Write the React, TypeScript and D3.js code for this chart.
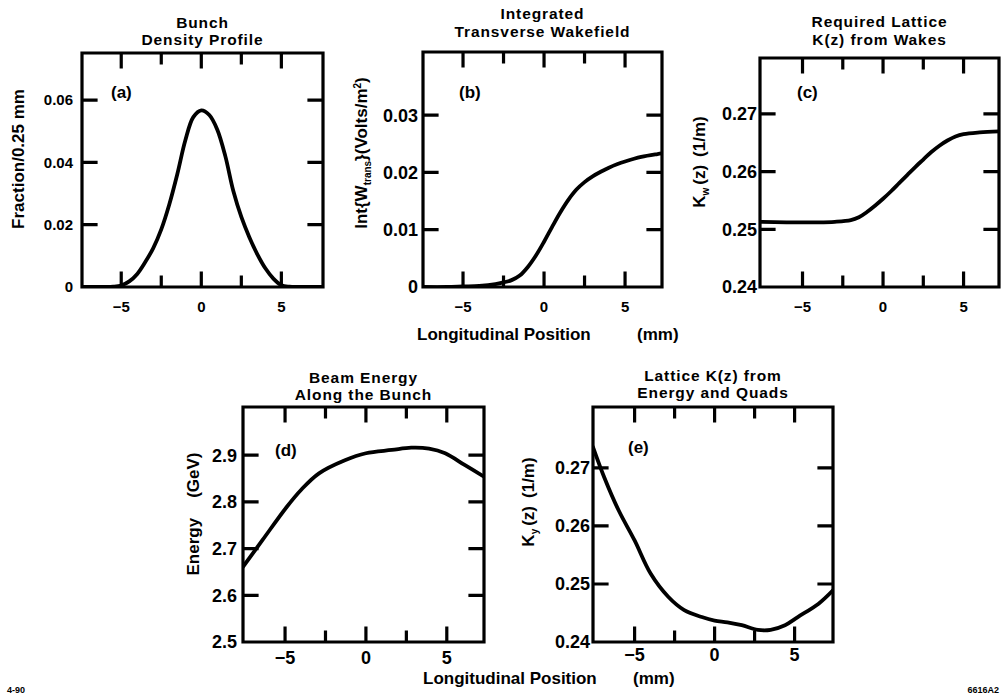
import React from "react";
import * as d3 from "d3";

// ---------- data ----------
// (a) Bunch density profile
const aZ = [-7.5, -7, -6.5, -6, -5.5, -5, -4.5, -4, -3.5, -3, -2.5, -2, -1.5, -1, -0.5, 0, 0.5, 1, 1.5, 2, 2.5, 3, 3.5, 4, 4.5, 5, 5.5, 6, 6.5, 7, 7.5];
const aFrac = [0, 0, 0, 0, 0.0001, 0.0005, 0.0018, 0.0042, 0.008, 0.0125, 0.0185, 0.0265, 0.0362, 0.047, 0.0545, 0.0567, 0.0552, 0.0505, 0.042, 0.0308, 0.0225, 0.016, 0.0105, 0.006, 0.0027, 0.0006, 0.0001, 0, 0, 0, 0];
// (b) Integrated transverse wakefield
const bZ = [-7.5, -6, -5, -4, -3, -2.5, -2, -1.5, -1, -0.5, 0, 0.5, 1, 1.5, 2, 2.5, 3, 3.5, 4, 4.5, 5, 6, 7, 7.5];
const bWake = [0, 0, 0.0001, 0.0002, 0.0005, 0.0008, 0.0012, 0.002, 0.0035, 0.0055, 0.0079, 0.0105, 0.013, 0.0152, 0.017, 0.0183, 0.0193, 0.0201, 0.0208, 0.0214, 0.0219, 0.0227, 0.0232, 0.0234];
// (c) Required lattice K(z) from wakes
const cZ = [-7.7, -6, -5, -4, -3, -2, -1.5, -1, -0.5, 0, 0.5, 1, 1.5, 2, 2.5, 3, 3.5, 4, 4.5, 5, 6, 7.3];
const cK = [0.2513, 0.2512, 0.2512, 0.2512, 0.2513, 0.2516, 0.2521, 0.253, 0.2541, 0.2553, 0.2566, 0.258, 0.2594, 0.2608, 0.2621, 0.2634, 0.2645, 0.2654, 0.2661, 0.2665, 0.2668, 0.267];
// (d) Beam energy along the bunch
const dZ = [-7.6, -6.4, -4.9, -4, -2.9, -1.3, 0, 1.6, 2.8, 3.9, 4.9, 6.1, 7.3];
const dE = [2.661, 2.718, 2.789, 2.826, 2.861, 2.889, 2.904, 2.911, 2.916, 2.914, 2.904, 2.879, 2.854];
// (e) Lattice K(z) from energy and quads
const eZ = [-7.6, -6.9, -6.0, -5, -4.0, -2.9, -1.9, -0.8, 0, 0.8, 1.7, 2.7, 3.5, 4.4, 5.2, 6.5, 7.4];
const eK = [0.2736, 0.2684, 0.2627, 0.2575, 0.2518, 0.2478, 0.2455, 0.2443, 0.2437, 0.2434, 0.2429, 0.2421, 0.2421, 0.2429, 0.2443, 0.2466, 0.2489];

const xTicks = [-5, 0, 5];
const xMinor = [-2.5, 2.5];
const aTicks = [0, 0.02, 0.04, 0.06];
const bTicks = [0, 0.01, 0.02, 0.03];
const cTicks = [0.24, 0.25, 0.26, 0.27];
const dTicks = [2.5, 2.6, 2.7, 2.8, 2.9];
const eTicks = [0.24, 0.25, 0.26, 0.27];

const xAxisTitle = "Longitudinal Position";
const xAxisUnit = "(mm)";

// ---------- layout ----------
const FONT = "'Liberation Sans', Arial, Helvetica, sans-serif";

type PanelCfg = {
  key: string;
  l: number; r: number; t: number; b: number;
  xDom: [number, number];
  yDom: [number, number];
  z: number[]; v: number[];
  yTicks: number[];
  fmt: (v: number) => string;
  titles: string[];
  titleY: number[];
  letter: string;
  letterXY: [number, number];
  yFont: number; xFont: number; gap: number; xLabY: number;
  yTitle: React.ReactNode;
  yTitleXY: [number, number];
};

const f2 = (v: number) => (v === 0 ? "0" : v.toFixed(2));
const f1 = (v: number) => v.toFixed(1);

const panels: PanelCfg[] = [
  {
    key: "a", l: 82, r: 323, t: 53, b: 287, xDom: [-7.45, 7.6], yDom: [0, 0.0751],
    z: aZ, v: aFrac, yTicks: aTicks, fmt: f2,
    titles: ["Bunch", "Density Profile"], titleY: [27.5, 45],
    letter: "(a)", letterXY: [111, 98], yFont: 15, xFont: 15, gap: 9, xLabY: 312,
    yTitle: <tspan>Fraction/0.25 mm</tspan>, yTitleXY: [24, 159],
  },
  {
    key: "b", l: 423, r: 662, t: 52, b: 287, xDom: [-7.47, 7.28], yDom: [0, 0.041],
    z: bZ, v: bWake, yTicks: bTicks, fmt: f2,
    titles: ["Integrated", "Transverse Wakefield"], titleY: [19, 36.5],
    letter: "(b)", letterXY: [459, 98], yFont: 18, xFont: 15, gap: 5, xLabY: 312,
    yTitle: (
      <>
        <tspan>Int{"{"}W</tspan>
        <tspan fontSize={10} dy={4}>trans</tspan>
        <tspan dy={-4}>{"}"}(Volts/m</tspan>
        <tspan fontSize={10} dy={-6}>2</tspan>
        <tspan dy={6}>)</tspan>
      </>
    ),
    yTitleXY: [367, 153],
  },
  {
    key: "c", l: 760, r: 999, t: 58, b: 287, xDom: [-7.64, 7.2], yDom: [0.24, 0.2797],
    z: cZ, v: cK, yTicks: cTicks, fmt: f2,
    titles: ["Required Lattice", "K(z) from Wakes"], titleY: [27, 44.5],
    letter: "(c)", letterXY: [797, 98], yFont: 18, xFont: 15, gap: 3, xLabY: 312,
    yTitle: (
      <>
        <tspan>K</tspan>
        <tspan fontSize={10} dy={4}>w</tspan>
        <tspan dy={-4} dx={3}>(z)</tspan>
        <tspan dx={8}>(1/m)</tspan>
      </>
    ),
    yTitleXY: [705, 162],
  },
  {
    key: "d", l: 243, r: 484, t: 407, b: 642, xDom: [-7.6, 7.3], yDom: [2.5, 3.003],
    z: dZ, v: dE, yTicks: dTicks, fmt: f1,
    titles: ["Beam Energy", "Along the Bunch"], titleY: [382.5, 400],
    letter: "(d)", letterXY: [275, 456], yFont: 18, xFont: 18, gap: 6, xLabY: 664,
    yTitle: (
      <>
        <tspan>Energy</tspan>
        <tspan dx={20}>(GeV)</tspan>
      </>
    ),
    yTitleXY: [199, 514],
  },
  {
    key: "e", l: 593, r: 833, t: 407, b: 642, xDom: [-7.6, 7.4], yDom: [0.24, 0.2805],
    z: eZ, v: eK, yTicks: eTicks, fmt: f2,
    titles: ["Lattice K(z) from", "Energy and Quads"], titleY: [380.5, 398],
    letter: "(e)", letterXY: [628, 453], yFont: 18, xFont: 18, gap: 3, xLabY: 661,
    yTitle: (
      <>
        <tspan>K</tspan>
        <tspan fontSize={10} dy={4}>y</tspan>
        <tspan dy={-4} dx={3}>(z)</tspan>
        <tspan dx={8}>(1/m)</tspan>
      </>
    ),
    yTitleXY: [534, 502],
  },
];

function Panel({ p }: { p: PanelCfg }) {
  const x = d3.scaleLinear().domain(p.xDom).range([p.l, p.r]);
  const y = d3.scaleLinear().domain(p.yDom).range([p.b, p.t]);
  const pts: [number, number][] = p.z.map((z, i) => [z, p.v[i]]);
  const line = d3
    .line<[number, number]>()
    .x((d) => x(d[0]))
    .y((d) => y(d[1]))
    .curve(d3.curveCatmullRom.alpha(0.5));
  const clipId = `clip-${p.key}`;
  const cx = (p.l + p.r) / 2;
  const major = 14;
  const minor = 10;
  const innerY = p.yTicks.filter((v) => y(v) < p.b - 2 && y(v) > p.t + 2);

  // frame + inward ticks in one d3 path
  const fp = d3.path();
  fp.moveTo(p.l, p.t);
  fp.lineTo(p.r, p.t);
  fp.lineTo(p.r, p.b);
  fp.lineTo(p.l, p.b);
  fp.closePath();
  xTicks.forEach((v) => {
    fp.moveTo(x(v), p.b); fp.lineTo(x(v), p.b - major);
    fp.moveTo(x(v), p.t); fp.lineTo(x(v), p.t + major);
  });
  xMinor.forEach((v) => {
    fp.moveTo(x(v), p.b); fp.lineTo(x(v), p.b - minor);
    fp.moveTo(x(v), p.t); fp.lineTo(x(v), p.t + minor);
  });
  innerY.forEach((v) => {
    fp.moveTo(p.l, y(v)); fp.lineTo(p.l + major, y(v));
    fp.moveTo(p.r, y(v)); fp.lineTo(p.r - major, y(v));
  });

  return (
    <g>
      <defs>
        <clipPath id={clipId}>
          <rect x={p.l} y={p.t} width={p.r - p.l} height={p.b - p.t} />
        </clipPath>
      </defs>
      {p.titles.map((t, i) => (
        <text key={t} x={cx} y={p.titleY[i]} textAnchor="middle" fontSize={15.5} letterSpacing={0.9} fontWeight="bold" fontFamily={FONT}>
          {t}
        </text>
      ))}
      <path d={line(pts) || ""} fill="none" stroke="#000" strokeWidth={3.8} strokeLinejoin="round" strokeLinecap="round" clipPath={`url(#${clipId})`} />
      <path d={fp.toString()} fill="none" stroke="#000" strokeWidth={3.2} strokeLinecap="square" />
      {xTicks.map((v) => (
        <text key={`xl${v}`} x={x(v)} y={p.xLabY} textAnchor="middle" fontSize={p.xFont} fontWeight="bold" fontFamily={FONT}>
          {v === 0 ? "0" : d3.format("d")(v)}
        </text>
      ))}
      {p.yTicks.map((v) => (
        <text key={`yl${v}`} x={p.l - p.gap} y={y(v)} dy="0.36em" textAnchor="end" fontSize={p.yFont} fontWeight="bold" fontFamily={FONT}>
          {p.fmt(v)}
        </text>
      ))}
      <text x={p.letterXY[0]} y={p.letterXY[1]} fontSize={17} fontFamily={FONT} fontWeight="bold">
        {p.letter}
      </text>
      <text
        transform={`translate(${p.yTitleXY[0]},${p.yTitleXY[1]}) rotate(-90)`}
        textAnchor="middle"
        fontSize={17}
        fontWeight="bold"
        fontFamily={FONT}
      >
        {p.yTitle}
      </text>
    </g>
  );
}

export default function App() {
  return (
    <svg
      width={1001}
      height={695}
      viewBox="0 0 1001 695"
      style={{ position: "absolute", left: 0, top: 0, background: "#fff" }}
    >
      <rect x={0} y={0} width={1001} height={695} fill="#fff" />
      {panels.map((p) => (
        <Panel key={p.key} p={p} />
      ))}
      <text x={417} y={340} fontSize={17} fontWeight="bold" fontFamily={FONT}>
        {xAxisTitle}
      </text>
      <text x={637} y={340} fontSize={17} fontWeight="bold" fontFamily={FONT}>
        {xAxisUnit}
      </text>
      <text x={423} y={684} fontSize={17} fontWeight="bold" fontFamily={FONT}>
        {xAxisTitle}
      </text>
      <text x={633} y={684} fontSize={17} fontWeight="bold" fontFamily={FONT}>
        {xAxisUnit}
      </text>
      <text x={7} y={693} fontSize={9} fontWeight="bold" fontFamily={FONT}>
        4-90
      </text>
      <text x={999} y={693} textAnchor="end" fontSize={9} fontWeight="bold" fontFamily={FONT}>
        6616A2
      </text>
    </svg>
  );
}
